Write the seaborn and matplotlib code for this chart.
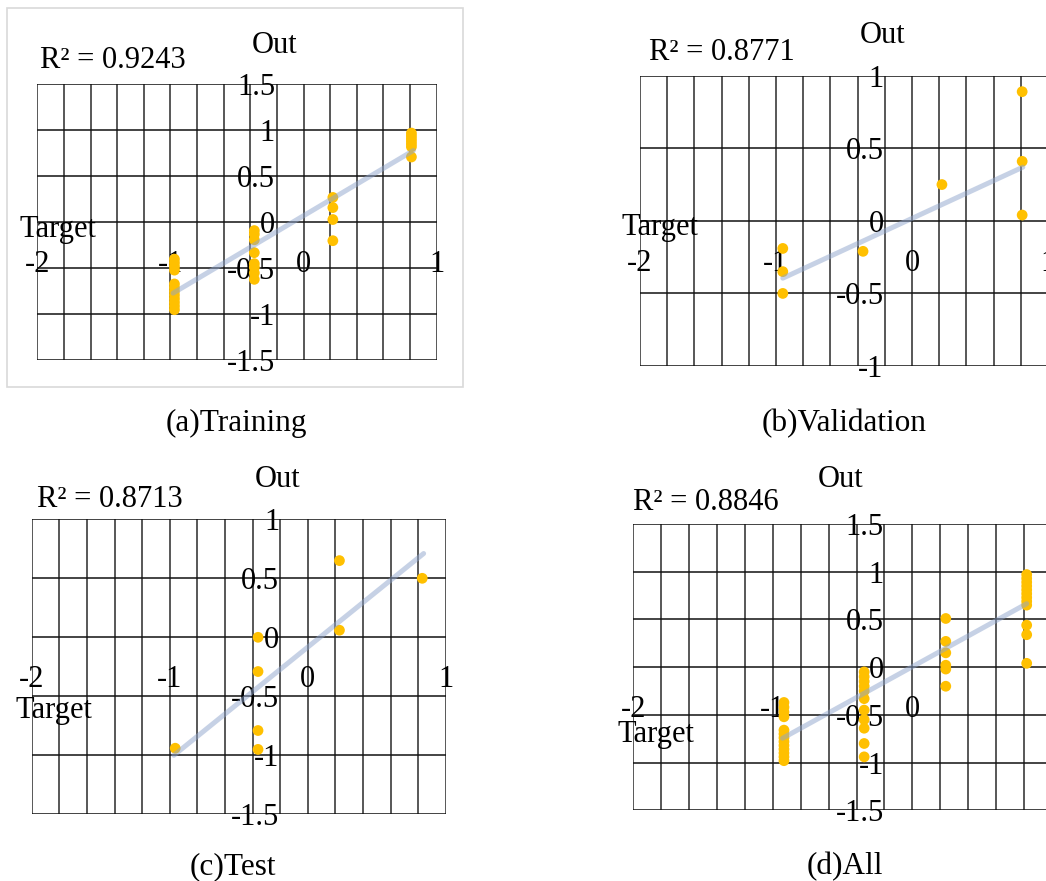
import numpy as np
import pandas as pd
import matplotlib
matplotlib.use('Agg')
import matplotlib.pyplot as plt
from matplotlib.patches import Rectangle
from matplotlib.ticker import FuncFormatter
import seaborn as sns

# Values
x_ticks = [-2, -1, 0, 1]

train_x = [-0.97, -0.97, -0.97, -0.97, -0.97, -0.97, -0.97, -0.97, -0.97, -0.97, -0.97, -0.97,
           -0.37, -0.37, -0.37, -0.37, -0.37, -0.37, -0.37, -0.37,
           0.22, 0.22, 0.22, 0.22,
           0.81, 0.81, 0.81, 0.81, 0.81, 0.81, 0.81]
train_y = [-0.40, -0.44, -0.48, -0.52, -0.67, -0.71, -0.75, -0.79, -0.83, -0.87, -0.91, -0.95,
           -0.09, -0.13, -0.19, -0.33, -0.45, -0.49, -0.55, -0.62,
           0.27, 0.16, 0.03, -0.20,
           0.97, 0.94, 0.91, 0.88, 0.85, 0.82, 0.71]
train_fit_x = [-0.98, 0.825]
train_fit_y = [-0.77, 0.78]

val_x = [-0.95, -0.95, -0.95, -0.36, 0.22, 0.81, 0.81, 0.81]
val_y = [-0.19, -0.35, -0.50, -0.21, 0.25, 0.89, 0.41, 0.04]
val_fit_x = [-0.95, 0.815]
val_fit_y = [-0.395, 0.37]

test_x = [-0.96, -0.36, -0.36, -0.36, -0.36, 0.23, 0.23, 0.83]
test_y = [-0.94, 0.00, -0.29, -0.79, -0.95, 0.65, 0.06, 0.50]
test_fit_x = [-0.97, 0.84]
test_fit_y = [-1.0, 0.71]

all_x = [-0.92, -0.92, -0.92, -0.92, -0.92, -0.92, -0.92, -0.92, -0.92, -0.92, -0.92, -0.92, -0.92,
         -0.345, -0.345, -0.345, -0.345, -0.345, -0.345, -0.345, -0.345, -0.345, -0.345, -0.345,
         0.24, 0.24, 0.24, 0.24, 0.24, 0.24,
         0.82, 0.82, 0.82, 0.82, 0.82, 0.82, 0.82, 0.82, 0.82, 0.82, 0.82, 0.82]
all_y = [-0.37, -0.42, -0.47, -0.52, -0.66, -0.70, -0.74, -0.78, -0.82, -0.86, -0.90, -0.94, -0.98,
         -0.05, -0.10, -0.15, -0.20, -0.25, -0.33, -0.45, -0.55, -0.64, -0.80, -0.94,
         0.51, 0.27, 0.15, 0.02, -0.02, -0.20,
         0.97, 0.93, 0.89, 0.85, 0.81, 0.77, 0.73, 0.69, 0.65, 0.44, 0.34, 0.04]
all_fit_x = [-0.93, 0.82]
all_fit_y = [-0.745, 0.665]

r2_labels = ['R² = 0.9243', 'R² = 0.8771', 'R² = 0.8713', 'R² = 0.8846']
captions = ['(a)Training', '(b)Validation', '(c)Test', '(d)All']
y_ticks = [[-1.5, -1, -0.5, 0, 0.5, 1, 1.5],
           [-1, -0.5, 0, 0.5, 1],
           [-1.5, -1, -0.5, 0, 0.5, 1],
           [-1.5, -1, -0.5, 0, 0.5, 1, 1.5]]

sns.set_style('white')
plt.rcParams['font.family'] = ['Liberation Serif', 'DejaVu Serif']
plt.rcParams['axes.unicode_minus'] = False
plt.rcParams['text.color'] = 'black'
plt.rcParams['xtick.color'] = 'black'
plt.rcParams['ytick.color'] = 'black'

W, H = 1046, 881
fig = plt.figure(figsize=(W / 100, H / 100), dpi=100)


def px_box(left, top, right, bottom):
    return [left / W, 1 - bottom / H, (right - left) / W, (bottom - top) / H]


def x_label(v, _):
    # only whole numbers carry a label, the rest are grid positions
    return f'{round(v):d}' if abs(v - round(v)) < 1e-6 else ''


# axes boxes in pixels: left, top, right, bottom
boxes = [(37.3, 84.3, 436.7, 360.3),
         (640, 75.7, 1048, 366),
         (31.7, 519.3, 445.7, 814.3),
         (633.3, 524, 1051.8, 810.3)]
# text anchors in pixels
r2_pos = [(40, 68), (649, 60), (37, 507), (633, 510)]
out_pos = [(275, 53), (883, 43), (278, 487), (841, 487)]
target_pos = [(20, 237), (622, 235), (15, 718), (617, 742)]
caption_pos = [(236, 431), (844, 431), (233, 874), (845, 874)]

panels = [(train_x, train_y, train_fit_x, train_fit_y),
          (val_x, val_y, val_fit_x, val_fit_y),
          (test_x, test_y, test_fit_x, test_fit_y),
          (all_x, all_y, all_fit_x, all_fit_y)]

fs = 22
for i, (px, py, fx, fy) in enumerate(panels):
    ax = fig.add_axes(px_box(*boxes[i]))
    pts = pd.DataFrame({'Target': px, 'Out': py})
    fit = pd.DataFrame({'Target': fx, 'Out': fy})
    sns.scatterplot(data=pts, x='Target', y='Out', ax=ax, color='#FFC000',
                    s=60, edgecolor='none', zorder=3)
    sns.lineplot(data=fit, x='Target', y='Out', ax=ax, color='#8FA5CC',
                 alpha=0.5, linewidth=3.6, zorder=4)

    yt = y_ticks[i]
    ax.set_xlim(-2, 1)
    ax.set_ylim(yt[0], yt[-1])
    ax.set_xticks(np.linspace(-2, 1, 16))
    ax.set_yticks(yt)
    ax.xaxis.set_major_formatter(FuncFormatter(x_label))
    ax.yaxis.set_major_formatter(FuncFormatter(lambda v, _: f'{v:g}'))
    ax.xaxis.grid(True, color='#4a4a4a', linewidth=1.3)
    ax.yaxis.grid(True, color='#111111', linewidth=1.1)
    for s in ax.spines.values():
        s.set_visible(False)
    ax.spines['bottom'].set_position(('data', 0))
    ax.spines['left'].set_position(('data', 0))
    ax.tick_params(axis='x', length=0, pad=20, labelsize=fs)
    ax.tick_params(axis='y', length=0, pad=20.5, labelsize=fs)
    ax.set_xlabel('')
    ax.set_ylabel('')
    ax.set_axisbelow(True)

    fig.text(r2_pos[i][0] / W, 1 - r2_pos[i][1] / H, r2_labels[i],
             fontsize=fs, va='baseline', ha='left')
    fig.text(out_pos[i][0] / W, 1 - out_pos[i][1] / H, 'Out',
             fontsize=fs, va='baseline', ha='center')
    fig.text(target_pos[i][0] / W, 1 - target_pos[i][1] / H, 'Target',
             fontsize=fs, va='baseline', ha='left')
    fig.text(caption_pos[i][0] / W, 1 - caption_pos[i][1] / H, captions[i],
             fontsize=fs + 0.5, va='baseline', ha='center')

# light frame around the first chart
fig.add_artist(Rectangle((7 / W, 1 - 387 / H), 456 / W, 379 / H,
                         transform=fig.transFigure, fill=False,
                         edgecolor='#d9d9d9', linewidth=1.2))

fig.savefig('out.png', dpi=100)
